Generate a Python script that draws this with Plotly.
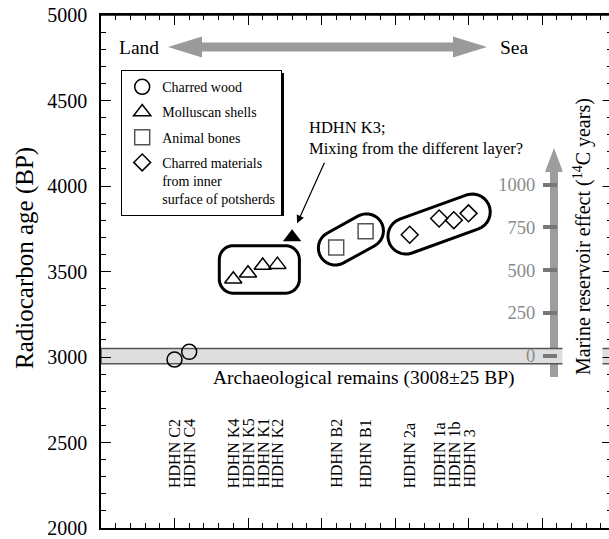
import numpy as np
import plotly.graph_objects as go

# ---------------- data ----------------
wood_labels = ["HDHN C2", "HDHN C4"]
wood_pos = [5, 6]
wood_age = [2985, 3030]

shell_labels = ["HDHN K4", "HDHN K5", "HDHN K1", "HDHN K2"]
shell_pos = [9, 10, 11, 12]
shell_age = [3455, 3490, 3535, 3540]

k3_pos = [13]
k3_age = [3700]

bone_labels = ["HDHN B2", "HDHN B1"]
bone_pos = [16, 18]
bone_age = [3640, 3735]

pot_labels = ["HDHN 2a", "HDHN 1a", "HDHN 1b", "HDHN 3"]
pot_pos = [21, 23, 24, 25]
pot_age = [3715, 3810, 3800, 3840]

arch_center = 3008
arch_low, arch_high = 2960, 3050
reservoir_ticks = [0, 250, 500, 750, 1000]
y_ticks = [2000, 2500, 3000, 3500, 4000, 4500, 5000]

# ---------------- layout geometry (window pixels; body margin removed below) ----------------
PL, PR, PT, PB = 101, 612, 15, 528          # plot box in window pixels
W, H = PR, 539
ML, MR, MT, MB = PL, 0, PT, H - PB
PW = PR - PL
PH = PB - PT
XMAX = PW / 14.7
YMIN, YMAX = 2000, 5000
FONT = "Liberation Serif, Times New Roman, serif"


def x2px(u):
    return PL + u * PW / XMAX


def y2px(v):
    return PT + (YMAX - v) * PH / (YMAX - YMIN)


def px2x(p):
    return (p - PL) * XMAX / PW


def py2y(p):
    return YMAX - (p - PT) * (YMAX - YMIN) / PH


def px2paper(p):
    return (p - PL) / PW


def py2paper(p):
    return (PB - p) / PH


def arc(cx, cy, r, a0, a1, n=12):
    t = np.linspace(a0, a1, n)
    return [(cx + r * np.cos(a), cy + r * np.sin(a)) for a in t]


def data_path(pts):
    return "M " + " L ".join(f"{px2x(x):.4f},{py2y(y):.2f}" for x, y in pts) + " Z"


def paper_path(pts):
    return "M " + " L ".join(f"{px2paper(x):.5f},{py2paper(y):.5f}" for x, y in pts) + " Z"


def rounded_rect(xs, ys, pl, pr, pt, pb, rad):
    left, right = min(xs) - pl, max(xs) + pr
    top, bottom = min(ys) - pt, max(ys) + pb
    pts = []
    pts += arc(left + rad, top + rad, rad, np.pi, 1.5 * np.pi)
    pts += arc(right - rad, top + rad, rad, 1.5 * np.pi, 2 * np.pi)
    pts += arc(right - rad, bottom - rad, rad, 0, 0.5 * np.pi)
    pts += arc(left + rad, bottom - rad, rad, 0.5 * np.pi, np.pi)
    return pts


def capsule(p1, p2, r, ext):
    p1 = np.array(p1, float)
    p2 = np.array(p2, float)
    d = p2 - p1
    d /= np.hypot(*d)
    a = np.arctan2(d[1], d[0])
    q1 = p1 - d * ext
    q2 = p2 + d * ext
    pts = arc(q2[0], q2[1], r, a - np.pi / 2, a + np.pi / 2, 16)
    pts += arc(q1[0], q1[1], r, a + np.pi / 2, a + 1.5 * np.pi, 16)
    return pts


fig = go.Figure()

mk_line = dict(width=1.5)
fig.add_trace(go.Scatter(x=wood_pos, y=wood_age, mode="markers", name="Charred wood",
                         legendgroup="a",
                         marker=dict(symbol="circle-open", size=15, color="black", line=mk_line)))
fig.add_trace(go.Scatter(x=shell_pos, y=shell_age, mode="markers", name="Molluscan shells",
                         legendgroup="b",
                         marker=dict(symbol="triangle-up-open", size=15, color="black", line=mk_line)))
fig.add_trace(go.Scatter(x=bone_pos, y=bone_age, mode="markers", name="Animal bones",
                         legendgroup="c",
                         marker=dict(symbol="square-open", size=15, color="#555555", line=mk_line)))
fig.add_trace(go.Scatter(x=pot_pos, y=pot_age, mode="markers",
                         name="Charred materials<br>from inner<br>surface of potsherds",
                         legendgroup="d",
                         marker=dict(symbol="diamond-open", size=13, color="black", line=mk_line)))
fig.add_trace(go.Scatter(x=k3_pos, y=k3_age, mode="markers", showlegend=False,
                         marker=dict(symbol="triangle-up", size=16, color="black")))
fig.add_trace(go.Scatter(x=[None], y=[None], yaxis="y2", showlegend=False, hoverinfo="skip"))

shapes = []
# archaeological band
shapes.append(dict(type="rect", xref="x", yref="y", x0=0, x1=XMAX, y0=arch_low, y1=arch_high,
                   fillcolor="#dedede", line=dict(color="#555555", width=1.5), layer="below"))
# Land / Sea double arrow
ay, xl, xr, hl, hh, sh = 47, 168, 487, 34, 10.5, 4.5
shapes.append(dict(type="path", xref="paper", yref="paper", layer="below",
                   path=paper_path([(xl, ay), (xl + hl, ay - hh), (xl + hl, ay - sh), (xr - hl, ay - sh),
                                    (xr - hl, ay - hh), (xr, ay), (xr - hl, ay + hh), (xr - hl, ay + sh),
                                    (xl + hl, ay + sh), (xl + hl, ay + hh)]),
                   fillcolor="#9a9a9a", line=dict(width=0)))
# marine reservoir vertical arrow
mx, mbot, mhb, mtip, mhw, msh = 554, 377, 172, 148, 9, 4
shapes.append(dict(type="path", xref="paper", yref="paper", layer="below",
                   path=paper_path([(mx - msh, mbot), (mx - msh, mhb), (mx - mhw, mhb), (mx, mtip),
                                    (mx + mhw, mhb), (mx + msh, mhb), (mx + msh, mbot)]),
                   fillcolor="rgba(140,140,140,0.85)", line=dict(width=0)))
# enclosures
shapes.append(dict(type="path", xref="x", yref="y",
                   path=data_path(rounded_rect([x2px(v) for v in shell_pos], [y2px(v) for v in shell_age],
                                               14, 22, 19, 14, 14)),
                   line=dict(color="black", width=3)))
shapes.append(dict(type="path", xref="x", yref="y",
                   path=data_path(capsule((x2px(bone_pos[0]), y2px(bone_age[0])),
                                          (x2px(bone_pos[-1]), y2px(bone_age[-1])), 17, 1)),
                   line=dict(color="black", width=3)))
shapes.append(dict(type="path", xref="x", yref="y",
                   path=data_path(capsule((x2px(pot_pos[0]), y2px(pot_age[0])),
                                          (x2px(pot_pos[-1]), y2px(pot_age[-1])), 18, 4)),
                   line=dict(color="black", width=3)))
# legend shadow
shapes.append(dict(type="rect", xref="paper", yref="paper", layer="above",
                   x0=px2paper(124), x1=px2paper(284), y0=py2paper(216), y1=py2paper(73),
                   fillcolor="black", line=dict(width=0)))
# top frame line
shapes.append(dict(type="line", xref="paper", yref="paper", layer="above", x0=0, x1=1, y0=1, y1=1,
                   line=dict(color="black", width=1.5)))


def txt(text, x, y, size, **kw):
    d = dict(text=text, xref="paper", yref="paper", x=px2paper(x), y=py2paper(y),
             xanchor="center", yanchor="middle", showarrow=False,
             font=dict(size=size, family=FONT, color="black"))
    d.update(kw)
    return d


ann = []
ann.append(txt("Radiocarbon age (BP)", 25, 258, 25, textangle=-90))
ann.append(txt("Land", 139, 47, 19.5))
ann.append(txt("Sea", 514, 47, 19.5))
ann.append(txt(f"Archaeological remains ({arch_center}±25 BP)", 364, 378, 19.5))
ann.append(txt("Marine reservoir effect (<sup>14</sup>C years)", 582, 237, 20, textangle=-90,
               bgcolor="white", borderpad=7))
ann.append(txt("HDHN K3;<br>Mixing from the different layer?", 307, 138, 16.5, xanchor="left",
               align="left"))
ann.append(dict(text="", x=k3_pos[0], y=k3_age[0], xref="x", yref="y", xshift=5, yshift=14,
                showarrow=True, arrowhead=2, arrowsize=1.3, arrowwidth=1.2, arrowcolor="black",
                ax=28, ay=-62, standoff=0))
for lab, pos in zip(wood_labels + shell_labels + bone_labels + pot_labels,
                    wood_pos + shell_pos + bone_pos + pot_pos):
    ann.append(dict(text=lab, x=pos, xref="x", yref="paper", y=py2paper(490), yanchor="bottom",
                    xanchor="center", textangle=-90, showarrow=False,
                    font=dict(size=16, family=FONT, color="black")))

fig.update_layout(
    template="none",
    width=W, height=H, margin=dict(l=ML, r=MR, t=MT, b=MB, pad=0, autoexpand=False),
    paper_bgcolor="white", plot_bgcolor="white",
    font=dict(family=FONT, color="black"),
    shapes=shapes, annotations=ann,
    showlegend=True,
    legend=dict(x=px2paper(121), y=py2paper(70), xanchor="left", yanchor="top",
                bgcolor="white", bordercolor="black", borderwidth=1.2,
                font=dict(size=14, family=FONT, color="black"), valign="top",
                itemwidth=30, tracegroupgap=4),
    xaxis=dict(range=[0, XMAX], automargin=False, showgrid=False, zeroline=False, showline=True,
               linecolor="black", linewidth=1.5, mirror="ticks", ticks="inside", tick0=0, dtick=5,
               ticklen=10, tickcolor="black", tickwidth=1.2, showticklabels=False,
               minor=dict(ticks="inside", dtick=1, ticklen=5, tickcolor="black", tickwidth=1.2)),
    yaxis=dict(range=[YMIN, YMAX], automargin=False, showgrid=False, zeroline=False, showline=True,
               linecolor="black", linewidth=1.5, mirror="ticks", ticks="inside", tickvals=y_ticks,
               ticklen=10, tickcolor="black", tickwidth=1.2, ticklabelstandoff=8,
               ticklabeloverflow="allow",
               tickfont=dict(size=20, family=FONT, color="black"),
               minor=dict(ticks="inside", dtick=100, ticklen=5, tickcolor="black", tickwidth=1.2)),
    yaxis2=dict(overlaying="y", anchor="free", position=px2paper(557), side="left", automargin=False,
                range=[YMIN - arch_center, YMAX - arch_center], tickvals=reservoir_ticks,
                ticks="outside", ticklen=14, tickwidth=4, tickcolor="#777777", showgrid=False,
                zeroline=False, showline=False, ticklabelstandoff=4, ticklabeloverflow="allow",
                tickfont=dict(size=18.5, family=FONT, color="#8a8a8a")),
)

fig.write_html("out.html", config={"displayModeBar": False},
               post_script="document.body.style.margin='0';document.body.style.overflow='hidden';")
